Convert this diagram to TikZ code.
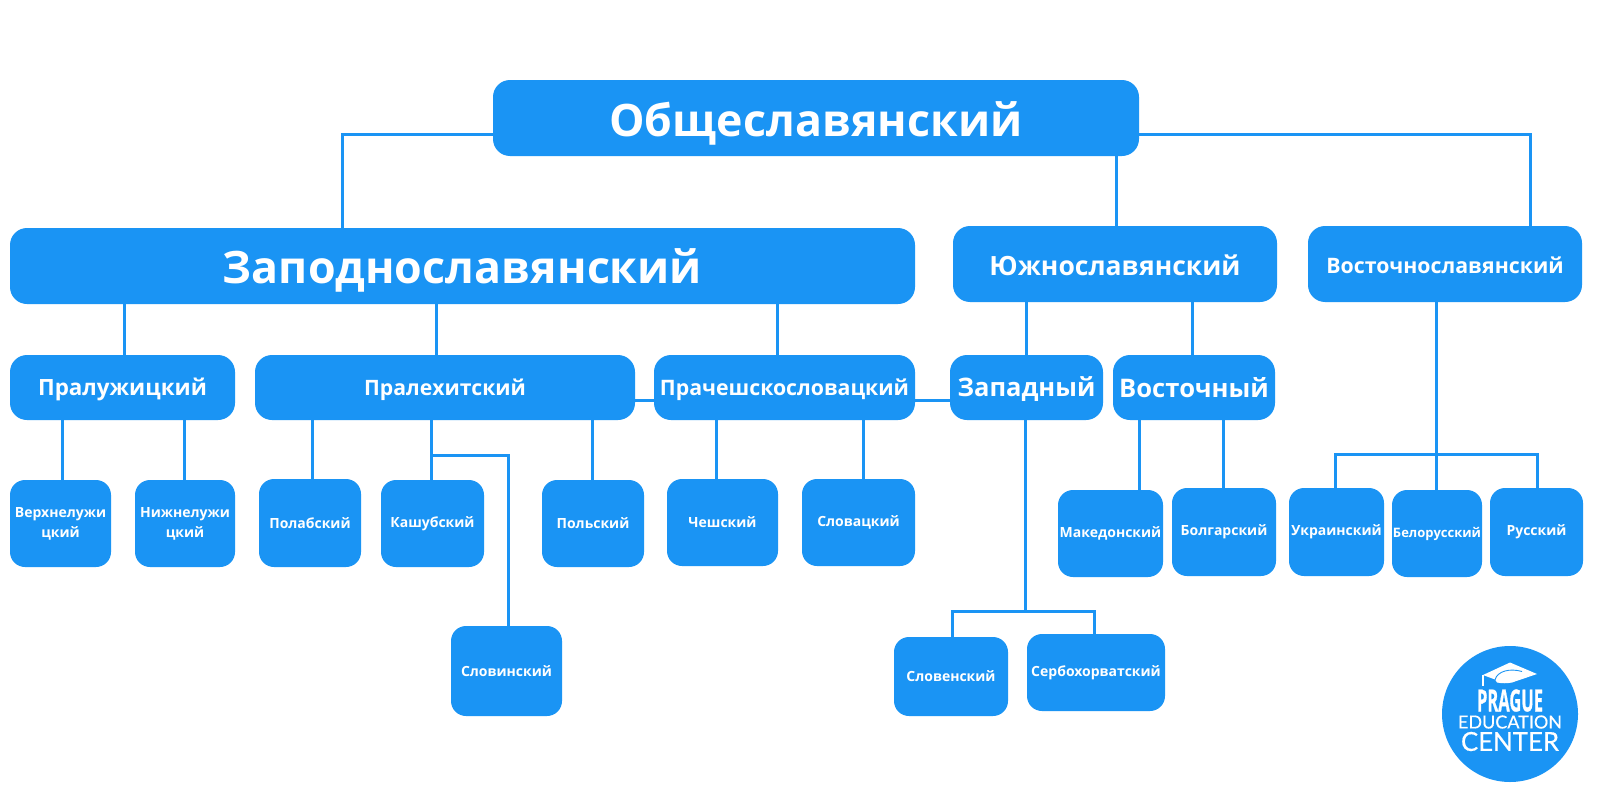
\documentclass[tikz,border=0pt]{standalone}
\usepackage{fontspec}
\setmainfont{Open Sans}[BoldFont=* Bold]
\newfontfamily\logofont{Lato}[FakeBold=0.5]
\newfontfamily\pragfont{Open Sans Bold}[FakeBold=1]
\definecolor{pecblue}{HTML}{1A94F4}
\tikzset{
  x=1pt,y=-1pt,
  conn/.style={draw=pecblue,line width=3pt},
  bx/.style={rectangle,fill=pecblue,text=white,inner sep=0pt,align=center},
}
\newcommand{\dn}[2]{\raisebox{-#1pt}[\height][\depth]{#2}}
\newcommand{\bxnode}[8]{% name x0 y0 x1 y1 radius size text
  \pgfmathsetmacro{\bxw}{#4-#2}\pgfmathsetmacro{\bxh}{#5-#3}
  \pgfmathsetmacro{\bxcx}{(#2+#4)/2}\pgfmathsetmacro{\bxcy}{(#3+#5)/2}
  \pgfmathsetmacro{\bxls}{#7*1.42}
  \node[bx,rounded corners=#6pt,minimum width=\bxw pt,minimum height=\bxh pt,
        font={\bfseries\fontsize{#7}{\bxls}\selectfont}] (#1) at (\bxcx,\bxcy) {#8};
}
\begin{document}
\begin{tikzpicture}
\useasboundingbox (0,0) rectangle (1600,800);
\fill[white] (0,0) rectangle (1600,800);
% level 0-1
\bxnode{obs}{493}{80}{1139}{156}{17}{44.7}{\dn{5}{Общеславянский}}
\bxnode{zap}{10}{228}{915}{304}{17}{44.7}{\dn{4.5}{Заподнославянский}}
\bxnode{yuz}{953}{226}{1277}{302}{17}{26.5}{\dn{1}{Южнославянский}}
\bxnode{vos}{1308}{226}{1582}{302}{17}{21.3}{\dn{1}{Восточнославянский}}
% level 2
\bxnode{plu}{10}{355}{235}{420}{17}{22.4}{\dn{2}{Пралужицкий}}
\bxnode{ple}{255}{355}{635}{420}{17}{21.2}{\dn{2}{Пралехитский}}
\bxnode{pch}{654}{355}{915}{420}{17}{21.3}{\dn{2}{Прачешскословацкий}}
\bxnode{wes}{950}{355}{1103}{420}{17}{25.5}{\dn{2}{Западный}}
\bxnode{eas}{1113}{355}{1275}{420}{17}{25.6}{Восточный}
% leaves
\bxnode{ver}{10}{480}{111}{567}{15}{14}{Верхнелужи\\цкий}
\bxnode{niz}{135}{480}{235}{567}{15}{14}{Нижнелужи\\цкий}
\bxnode{pol}{259}{479}{361}{567}{15}{14}{Полабский}
\bxnode{kas}{381}{480}{484}{567}{15}{14}{Кашубский}
\bxnode{pls}{542}{480}{644}{567}{15}{14}{Польский}
\bxnode{ces}{667}{479}{778}{566}{15}{14}{Чешский}
\bxnode{slk}{802}{479}{915}{566}{15}{14}{Словацкий}
\bxnode{sln}{451}{626}{562}{716}{15}{14}{Словинский}
\bxnode{mak}{1058}{490}{1163}{577}{15}{14}{Македонский}
\bxnode{bol}{1172}{488}{1276}{576}{15}{14}{Болгарский}
\bxnode{ukr}{1289}{488}{1384}{576}{15}{14}{Украинский}
\bxnode{bel}{1392}{490}{1482}{577}{15}{13}{Белорусский}
\bxnode{rus}{1490}{488}{1583}{576}{15}{14}{Русский}
\bxnode{slv}{894}{637}{1008}{716}{15}{14}{Словенский}
\bxnode{srb}{1027}{634}{1165}{711}{15}{14}{Сербохорватский}
% junction coordinates
\coordinate (j1) at (342.5,134.5);
\coordinate (j2) at (1530.5,134.5);
\coordinate (j3) at (1436.5,454);
\coordinate (j4) at (431.5,455);
\coordinate (j5) at (508,455);
\coordinate (j6) at (1025,611);
\coordinate (j7) at (952,611);
\coordinate (j8) at (1094,611);
\coordinate (j9) at (1335,454);
\coordinate (j10) at (1537,454);
\coordinate (h1) at (0,400);
% connectors
\draw[conn] (obs.west |- j1) -- (j1) -- (j1 |- zap.north);
\draw[conn] (obs.east |- j2) -- (j2) -- (j2 |- vos.north);
\draw[conn] (1116,0 |- obs.south) -- (1116,0 |- yuz.north);
\draw[conn] (124.5,0 |- zap.south) -- (124.5,0 |- plu.north);
\draw[conn] (436.5,0 |- zap.south) -- (436.5,0 |- ple.north);
\draw[conn] (777.5,0 |- zap.south) -- (777.5,0 |- pch.north);
\draw[conn] (1026.5,0 |- yuz.south) -- (1026.5,0 |- wes.north);
\draw[conn] (1192,0 |- yuz.south) -- (1192,0 |- eas.north);
\draw[conn] (ple.east |- h1) -- (pch.west |- h1);
\draw[conn] (pch.east |- h1) -- (wes.west |- h1);
\draw[conn] (62,0 |- plu.south) -- (62,0 |- ver.north);
\draw[conn] (184.5,0 |- plu.south) -- (184.5,0 |- niz.north);
\draw[conn] (312,0 |- ple.south) -- (312,0 |- pol.north);
\draw[conn] (j4 |- ple.south) -- (j4 |- kas.north);
\draw[conn] (j4) -- (j5) -- (j5 |- sln.north);
\draw[conn] (592,0 |- ple.south) -- (592,0 |- pls.north);
\draw[conn] (716,0 |- pch.south) -- (716,0 |- ces.north);
\draw[conn] (863,0 |- pch.south) -- (863,0 |- slk.north);
\draw[conn] (1139.5,0 |- eas.south) -- (1139.5,0 |- mak.north);
\draw[conn] (1223,0 |- eas.south) -- (1223,0 |- bol.north);
\draw[conn] (j3 |- vos.south) -- (j3 |- bel.north);
\draw[conn] (j9 |- ukr.north) -- (j9) -- (j10) -- (j10 |- rus.north);
\draw[conn] (j6 |- wes.south) -- (j6);
\draw[conn] (j7 |- slv.north) -- (j7) -- (j8) -- (j8 |- srb.north);
% logo
\node[circle,fill=pecblue,minimum size=136pt,inner sep=0pt] (logo) at (1510,714) {};
\fill[white] (1483,675) -- (1510,662.5) -- (1537,674) -- (1512,682.5) .. controls (1507,683.5) and (1502,683.5) .. (1497,682.5) -- (1495,679.5) -- cycle;
\draw[pecblue,line width=0.9pt] (1495,680) .. controls (1497,671) and (1510,668) .. (1522,671.5);
\draw[white,line width=1.1pt] (1483,675) -- (1483,686);
\node[inner sep=0pt,text=white] (l1) at (1510,700.5) {\resizebox{66pt}{22pt}{\pragfont PRAGUE}};
\node[inner sep=0pt,text=white] (l2) at (1510,722) {\resizebox{104pt}{13pt}{\logofont EDUCATION}};
\node[inner sep=0pt,text=white] (l3) at (1510,741.5) {\resizebox{98pt}{19pt}{\logofont CENTER}};
\end{tikzpicture}
\end{document}
